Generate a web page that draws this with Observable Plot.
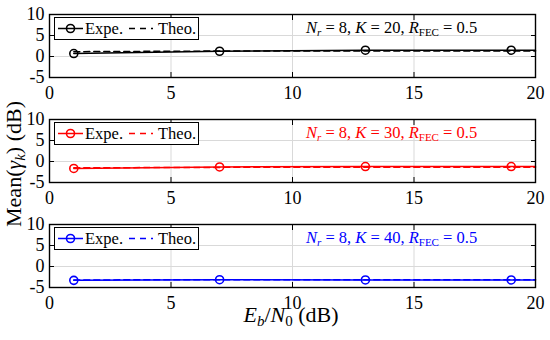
<!DOCTYPE html>
<html><head><meta charset="utf-8">
<script src="https://cdn.jsdelivr.net/npm/d3@7"></script>
<script src="https://cdn.jsdelivr.net/npm/@observablehq/plot@0.6"></script>
<style>
body{margin:0;background:#fff;}
#wrap{position:relative;width:550px;height:340px;font-family:"Liberation Serif","DejaVu Serif",serif;color:#000;}
#wrap svg text{font-family:"Liberation Serif","DejaVu Serif",serif;}
.legend{position:absolute;box-sizing:border-box;border:1.3px solid #000;background:#fff;height:23px;width:145px;}
.legend svg{position:absolute;left:0;top:0;}
.legend span{position:absolute;top:1px;font-size:16.5px;line-height:20px;}
.note{position:absolute;font-size:16.5px;white-space:pre;line-height:20px;}
.note sub{font-size:11px;vertical-align:-3px;line-height:0;}
.ylab{position:absolute;font-size:22px;white-space:pre;transform:rotate(-90deg);transform-origin:center center;line-height:24px;}
.xlab{position:absolute;font-size:22px;white-space:pre;line-height:24px;}
.xlab sub,.ylab sub{font-size:15px;vertical-align:-4px;line-height:0;}
</style></head><body><div id="wrap"></div>
<script>
const panels = ["K20", "K30", "K40"];
const kValues = [20, 30, 40];
const panelColors = ["#000000", "#ff0000", "#0000ff"];
const ebn0 = [1, 7, 13, 19, 20];
const markerEbn0 = [1, 7, 13, 19];
const expeK20 = [0.7, 1.25, 1.5, 1.5, 1.5];
const theoK20 = [1.15, 1.3, 1.3, 1.3, 1.3];
const expeK30 = [-1.65, -1.3, -1.2, -1.2, -1.2];
const theoK30 = [-1.5, -1.4, -1.35, -1.35, -1.35];
const expeK40 = [-3.3, -3.15, -3.2, -3.2, -3.2];
const theoK40 = [-3.2, -3.15, -3.15, -3.15, -3.15];
const xTicks = [0, 5, 10, 15, 20];
const yTicks = [-5, 0, 5, 10];

const expeAll = [expeK20, expeK30, expeK40];
const theoAll = [theoK20, theoK30, theoK40];
const rows = [];
panels.forEach((p, i) => ebn0.forEach((x, j) => rows.push({
  panel: p, color: panelColors[i], x, expe: expeAll[i][j], theo: theoAll[i][j],
  marker: markerEbn0.includes(x)
})));

const font = '"Liberation Serif","DejaVu Serif",serif';
const chart = Plot.plot({
  width: 550, height: 340,
  marginLeft: 49, marginRight: 15, marginTop: 13, marginBottom: 51,
  x: {domain: [0, 20], ticks: xTicks, label: null},
  y: {domain: [-5, 10], ticks: yTicks, label: null},
  fy: {domain: panels, axis: null, paddingInner: 0.396, paddingOuter: 0},
  color: {type: "identity"},
  style: {fontFamily: font, fontSize: "18px", background: "#fff"},
  marks: [
    Plot.gridX(xTicks, {stroke: "#d9d9d9", strokeOpacity: 1, facetAnchor: null}),
    Plot.gridY(yTicks, {stroke: "#d9d9d9", strokeOpacity: 1, facetAnchor: null}),
    Plot.lineY(rows, {x: "x", y: "theo", fy: "panel", z: "panel", stroke: "color", strokeWidth: 1.5, strokeDasharray: "6,4"}),
    Plot.lineY(rows, {x: "x", y: "expe", fy: "panel", z: "panel", stroke: "color", strokeWidth: 1.5}),
    Plot.dot(rows.filter(d => d.marker), {x: "x", y: "expe", fy: "panel", stroke: "color", r: 4, strokeWidth: 1.6, fill: "none"}),
    Plot.frame({stroke: "#000", strokeWidth: 1.4}),
    Plot.axisX(xTicks, {anchor: "bottom", tickSize: 0, tickPadding: 9, facetAnchor: null, label: null, fontSize: 18, fontFamily: font}),
    Plot.axisX(xTicks, {anchor: "bottom", tickSize: -5, tickFormat: () => "", facetAnchor: null, label: null}),
    Plot.axisX(xTicks, {anchor: "top", tickSize: -5, tickFormat: () => "", facetAnchor: null, label: null}),
    Plot.axisY(yTicks, {anchor: "left", tickSize: 0, tickPadding: 5, facetAnchor: null, label: null, fontSize: 18, fontFamily: font, tickFormat: d => String(d)}),
    Plot.axisY(yTicks, {anchor: "left", tickSize: -5, tickFormat: () => "", facetAnchor: null, label: null}),
    Plot.axisY(yTicks, {anchor: "right", tickSize: -5, tickFormat: () => "", facetAnchor: null, label: null})
  ]
});
const wrap = document.getElementById("wrap");
chart.style.position = "absolute"; chart.style.left = "0"; chart.style.top = "0";
wrap.appendChild(chart);

const fy = chart.scale("fy");
const xs = chart.scale("x");
panels.forEach((p, i) => {
  const top = fy.apply(p);
  const c = panelColors[i];
  const lg = document.createElement("div");
  lg.className = "legend";
  lg.style.left = (xs.apply(0) + 5) + "px";
  lg.style.top = (top + 3) + "px";
  lg.innerHTML = `<svg width="145" height="23">
    <line x1="3" x2="28" y1="10.5" y2="10.5" stroke="${c}" stroke-width="1.5"/>
    <circle cx="15.5" cy="10.5" r="4" fill="none" stroke="${c}" stroke-width="1.6"/>
    <line x1="74" x2="98" y1="10.5" y2="10.5" stroke="${c}" stroke-width="1.5" stroke-dasharray="6,5"/>
  </svg><span style="left:30px">Expe.</span><span style="left:103px">Theo.</span>`;
  wrap.appendChild(lg);
  const note = document.createElement("div");
  note.className = "note";
  note.style.color = c;
  note.style.left = "306px";
  note.style.top = (top + 4) + "px";
  note.innerHTML = `<i>N</i><sub><i>r</i></sub> = 8, <i>K</i> = ${kValues[i]}, <i>R</i><sub>FEC</sub> = 0.5`;
  wrap.appendChild(note);
});
const yl = document.createElement("div");
yl.className = "ylab";
yl.innerHTML = `Mean(<i>γ</i><sub><i>k</i></sub>) (dB)`;
wrap.appendChild(yl);
const w = yl.offsetWidth, h = yl.offsetHeight;
yl.style.left = (14 - w / 2) + "px";
yl.style.top = (164 - h / 2) + "px";
const xl = document.createElement("div");
xl.className = "xlab";
xl.innerHTML = `<i>E</i><sub><i>b</i></sub>/<i>N</i><sub>0</sub> (dB)`;
wrap.appendChild(xl);
xl.style.left = (291 - xl.offsetWidth / 2) + "px";
xl.style.top = "303px";
</script></body></html>
